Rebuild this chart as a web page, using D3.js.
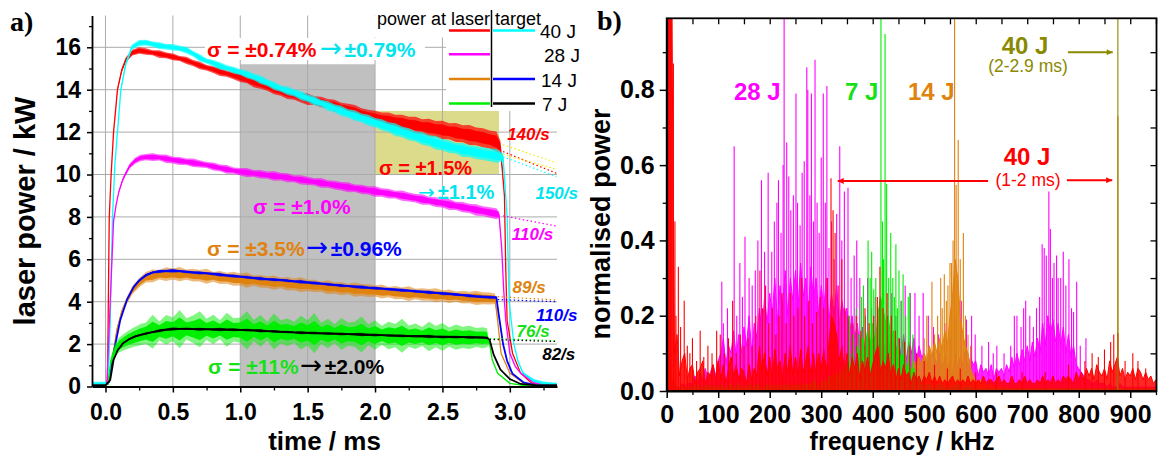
<!DOCTYPE html>
<html>
<head>
<meta charset="utf-8">
<script src="https://cdn.jsdelivr.net/npm/d3@7"></script>
<style>
  body { margin: 0; background: #fff; }
  svg { display: block; font-family: "Liberation Sans", Arial, sans-serif; }
</style>
</head>
<body>
<svg id="chart" width="1158" height="456"></svg>
<script>
// ---------------- panel a) : laser power traces ----------------
// common time grid of the flat part of every pulse (ms)
const timeFlat = [0.30,0.35,0.40,0.45,0.50,0.55,0.60,0.65,0.70,0.75,0.80,0.85,0.90,0.95,
  1.00,1.05,1.10,1.15,1.20,1.25,1.30,1.35,1.40,1.45,1.50,1.55,1.60,1.65,1.70,1.75,1.80,1.85,1.90,1.95,
  2.00,2.05,2.10,2.15,2.20,2.25,2.30,2.35,2.40,2.45,2.50,2.55,2.60,2.65,2.70,2.75,2.80];

// rise / fall segments: [time ms, power kW, noise half-width kW]
// flat part: power (kW) and noise half-width (kW) on timeFlat

// 40 J, at laser
const redRise = [[-0.10,0.05,0.03],[0.00,0.05,0.03],[0.015,0.3,0],[0.028,8.0,0],[0.042,10.0,0],[0.06,12.0,0.03],[0.089,14.0,0.06],[0.12,14.9,0.1],[0.15,15.4,0.12],[0.20,15.75,0.14],[0.25,15.85,0.15]];
const redFlat = [15.80,15.74,15.68,15.62,15.55,15.47,15.38,15.26,15.14,15.04,14.95,14.85,14.76,14.67,
  14.58,14.47,14.36,14.25,14.13,14.02,13.92,13.82,13.72,13.63,13.55,13.49,13.42,13.34,13.25,13.17,13.08,12.98,12.88,12.78,
  12.68,12.62,12.56,12.5,12.44,12.38,12.32,12.26,12.21,12.15,12.1,12.04,11.98,11.92,11.86,11.8,11.73];
const redNoise = [0.15,0.12,0.18,0.14,0.16,0.12,0.17,0.14,0.18,0.13,0.16,0.2,0.15,0.18,0.22,0.17,0.25,0.2,0.18,0.24,
  0.2,0.26,0.19,0.23,0.27,0.2,0.25,0.22,0.28,0.21,0.26,0.3,0.24,0.28,0.33,0.3,0.36,0.32,0.38,0.34,
  0.4,0.35,0.42,0.37,0.44,0.38,0.45,0.4,0.47,0.42,0.45];
const redFall = [[2.85,11.65,0.42],[2.90,11.55,0.48],[2.93,11.3,0.3],[2.96,9.0,0],[2.97,5.5,0],[2.98,3.1,0],[3.02,1.57,0],[3.08,0.63,0],[3.16,0.17,0],[3.25,0.05,0],[3.35,0.05,0]];

// 40 J, at target
const cyanRise = [[-0.10,0.13,0.09],[0.00,0.13,0.09],[0.02,0.2,0],[0.035,3.0,0],[0.052,8.0,0],[0.07,10.5,0],[0.089,12.0,0.03],[0.114,14.0,0.06],[0.15,15.2,0.1],[0.196,16.0,0.12],[0.25,16.2,0.14]];
const cyanFlat = [16.22,16.15,16.08,16.03,16.0,15.95,15.87,15.7,15.5,15.35,15.25,15.12,15.02,14.92,
  14.83,14.72,14.6,14.47,14.33,14.18,14.05,13.95,13.85,13.72,13.6,13.48,13.36,13.24,13.12,13.0,12.88,12.78,12.67,12.56,
  12.45,12.34,12.23,12.12,12.01,11.9,11.8,11.7,11.6,11.5,11.4,11.32,11.24,11.16,11.1,11.04,10.98];
const cyanNoise = [0.14,0.12,0.16,0.13,0.15,0.12,0.16,0.13,0.17,0.12,0.15,0.18,0.13,0.16,0.14,0.18,0.15,0.2,0.16,0.19,
  0.15,0.2,0.17,0.22,0.18,0.21,0.17,0.23,0.19,0.24,0.2,0.25,0.21,0.26,0.22,0.27,0.23,0.3,0.25,0.28,
  0.24,0.3,0.26,0.32,0.27,0.3,0.25,0.33,0.28,0.31,0.3];
const cyanFall = [[2.85,10.93,0.3],[2.90,10.88,0.32],[2.95,10.8,0.2],[2.98,8.0,0],[2.995,4.0,0],[3.03,2.0,0],[3.06,1.2,0.05],[3.10,0.6,0.08],[3.18,0.25,0.1],[3.25,0.15,0.08],[3.35,0.12,0.06]];

// 28 J, at laser
const magentaRise = [[-0.10,0.05,0.03],[0.00,0.05,0.03],[0.01,0.1,0],[0.06,7.8,0],[0.08,8.6,0],[0.10,9.2,0.05],[0.125,9.7,0.08],[0.146,10.0,0.1],[0.18,10.4,0.12],[0.22,10.65,0.14],[0.26,10.78,0.15]];
const magentaFlat = [10.82,10.82,10.8,10.74,10.68,10.64,10.6,10.55,10.5,10.45,10.38,10.31,10.24,10.18,
  10.13,10.09,10.05,10.01,9.97,9.93,9.9,9.85,9.8,9.75,9.7,9.65,9.6,9.55,9.5,9.45,9.4,9.35,9.3,9.25,
  9.2,9.15,9.1,9.05,9.0,8.94,8.88,8.82,8.76,8.7,8.65,8.58,8.52,8.46,8.4,8.33,8.27];
const magentaNoise = [0.15,0.18,0.14,0.2,0.16,0.19,0.15,0.2,0.17,0.14,0.19,0.16,0.21,0.15,0.18,0.22,0.16,0.2,0.17,0.23,
  0.18,0.21,0.16,0.22,0.19,0.17,0.23,0.18,0.21,0.2,0.24,0.18,0.22,0.19,0.25,0.2,0.23,0.18,0.24,0.21,
  0.2,0.25,0.19,0.23,0.21,0.26,0.2,0.24,0.22,0.27,0.23];
const magentaFall = [[2.85,8.21,0.25],[2.90,8.15,0.26],[2.92,8.1,0.15],[2.94,6.5,0],[2.955,4.5,0],[2.97,3.1,0],[3.00,1.57,0],[3.04,0.95,0],[3.08,0.63,0],[3.17,0.2,0],[3.25,0.06,0],[3.35,0.05,0]];

// 14 J, at laser
const orangeRise = [[-0.10,0.05,0.03],[0.00,0.05,0.03],[0.02,0.2,0],[0.047,1.1,0.05],[0.084,2.66,0.1],[0.12,3.5,0.15],[0.16,4.08,0.18],[0.20,4.55,0.2],[0.257,4.94,0.22]];
const orangeFlat = [5.15,5.22,5.27,5.3,5.31,5.3,5.28,5.25,5.22,5.2,5.17,5.14,5.11,5.08,
  5.05,5.02,4.99,4.96,4.93,4.9,4.88,4.85,4.82,4.8,4.77,4.74,4.71,4.68,4.65,4.62,4.6,4.57,4.55,4.52,
  4.5,4.48,4.45,4.43,4.4,4.38,4.36,4.34,4.32,4.3,4.28,4.26,4.24,4.22,4.2,4.18,4.16];
const orangeNoise = [0.25,0.3,0.22,0.32,0.26,0.34,0.24,0.3,0.27,0.35,0.23,0.31,0.26,0.33,0.28,0.36,0.24,0.3,0.27,0.34,
  0.25,0.32,0.28,0.35,0.26,0.3,0.24,0.33,0.27,0.31,0.25,0.34,0.28,0.3,0.26,0.33,0.24,0.31,0.27,0.35,
  0.25,0.3,0.28,0.33,0.26,0.32,0.24,0.3,0.27,0.34,0.28];
const orangeFall = [[2.85,4.15,0.28],[2.89,4.14,0.25],[2.91,3.1,0],[2.935,1.57,0],[3.00,0.63,0],[3.10,0.17,0],[3.20,0.05,0],[3.35,0.05,0]];

// 14 J, at target
const blueRise = [[-0.10,0.05,0.02],[0.00,0.05,0.02],[0.025,0.2,0],[0.06,1.57,0],[0.11,3.14,0.03],[0.16,4.1,0.04],[0.21,4.7,0.05],[0.25,5.0,0.06]];
const blueFlat = [5.25,5.38,5.43,5.45,5.46,5.44,5.41,5.38,5.36,5.34,5.31,5.28,5.24,5.21,
  5.18,5.15,5.12,5.09,5.06,5.04,5.02,4.99,4.96,4.94,4.91,4.88,4.85,4.82,4.79,4.76,4.74,4.71,4.69,4.66,
  4.64,4.62,4.59,4.57,4.54,4.52,4.49,4.47,4.44,4.42,4.39,4.37,4.34,4.31,4.28,4.25,4.23];
const blueNoise = [0.07,0.05,0.08,0.06,0.09,0.05,0.07,0.06,0.08,0.05,0.07,0.09,0.06,0.08,0.05,0.07,0.06,0.09,0.05,0.08,
  0.06,0.07,0.05,0.09,0.06,0.08,0.05,0.07,0.06,0.08,0.05,0.07,0.09,0.06,0.08,0.05,0.07,0.06,0.08,0.05,
  0.07,0.06,0.09,0.05,0.08,0.06,0.07,0.05,0.08,0.06,0.07];
const blueFall = [[2.85,4.21,0.07],[2.90,4.2,0.06],[2.92,3.3,0],[2.95,2.0,0],[2.98,1.2,0],[3.02,0.6,0],[3.10,0.2,0],[3.20,0.05,0],[3.35,0.05,0]];

// 7 J, at laser
const greenRise = [[-0.10,0.05,0.03],[0.00,0.05,0.03],[0.02,0.1,0],[0.04,1.2,0.2],[0.07,1.7,0.3],[0.10,1.95,0.35],[0.15,2.15,0.4],[0.20,2.3,0.45],[0.26,2.45,0.5]];
const greenFlat = [2.52,2.58,2.62,2.67,2.7,2.71,2.72,2.7,2.7,2.69,2.69,2.68,2.68,2.67,
  2.66,2.65,2.64,2.62,2.61,2.59,2.58,2.56,2.55,2.54,2.53,2.52,2.51,2.5,2.49,2.48,2.47,2.46,2.45,2.44,
  2.43,2.42,2.41,2.4,2.39,2.38,2.37,2.36,2.36,2.35,2.34,2.33,2.33,2.32,2.32,2.31,2.3];
const greenNoise = [0.5,0.8,0.45,0.7,0.55,0.9,0.5,0.65,0.85,0.5,0.7,0.45,0.8,0.55,0.6,0.9,0.5,0.75,0.45,0.85,
  0.55,0.65,0.5,0.8,0.6,0.95,0.5,0.7,0.45,0.75,0.55,0.6,0.85,0.5,0.7,0.45,0.65,0.55,0.8,0.5,
  0.6,0.45,0.7,0.5,0.65,0.45,0.6,0.5,0.55,0.45,0.5];
const greenFall = [[2.83,2.3,0.45],[2.85,2.0,0],[2.87,1.25,0],[2.91,0.62,0],[3.00,0.15,0],[3.10,0.05,0],[3.35,0.05,0]];

// 7 J, at target
const blackRise = [[-0.10,0.05,0.02],[0.00,0.05,0.02],[0.035,0.3,0],[0.06,1.25,0],[0.09,1.7,0.02],[0.13,2.04,0.03],[0.18,2.25,0.04],[0.22,2.36,0.05],[0.26,2.43,0.05]];
const blackFlat = [2.5,2.57,2.63,2.68,2.71,2.72,2.72,2.71,2.7,2.7,2.69,2.69,2.68,2.68,
  2.67,2.66,2.65,2.63,2.61,2.6,2.58,2.57,2.55,2.54,2.53,2.52,2.51,2.5,2.49,2.48,2.47,2.46,2.45,2.44,
  2.43,2.42,2.41,2.4,2.39,2.38,2.37,2.37,2.36,2.35,2.34,2.34,2.33,2.33,2.32,2.32,2.31];
const blackNoise = [0.06,0.04,0.07,0.05,0.08,0.04,0.06,0.05,0.07,0.04,0.06,0.08,0.05,0.07,0.04,0.06,0.05,0.08,0.04,0.07,
  0.05,0.06,0.04,0.08,0.05,0.07,0.04,0.06,0.05,0.07,0.04,0.06,0.08,0.05,0.07,0.04,0.06,0.05,0.07,0.04,
  0.06,0.05,0.08,0.04,0.07,0.05,0.06,0.04,0.07,0.05,0.06];
const blackFall = [[2.83,2.3,0.05],[2.85,2.2,0],[2.88,1.5,0],[2.93,0.8,0],[3.00,0.35,0],[3.08,0.12,0],[3.20,0.05,0],[3.35,0.05,0]];

// extrapolated decay fits: [t0, P0, t1, P1, colour key]
const fitLines = [
  [2.95,11.40,3.345,10.56,'yellow'],[2.95,11.08,3.345,10.06,'red'],[2.95,10.95,3.345,10.25,'yellow'],
  [2.95,10.84,3.345,9.90,'cyan'],[2.95,8.05,3.345,7.57,'magenta'],
  [2.91,4.24,3.345,4.08,'orange'],[2.91,4.10,3.345,4.00,'blue'],
  [2.85,2.27,3.345,2.16,'green'],[2.85,2.22,3.345,2.12,'black']];

// decay rate labels: [text, colour key, time at left edge, power at baseline]
const rateLabels = [['140/s','red',2.98,11.62],['150/s','cyan',3.19,8.83],['110/s','magenta',3.015,6.91],
  ['89/s','orange',3.02,4.41],['110/s','blue',3.195,3.09],['76/s','green',3.05,2.33],['82/s','black',3.24,1.25]];

const timeTicks = [0,0.5,1.0,1.5,2.0,2.5,3.0];
const timeMinor = [0.25,0.75,1.25,1.75,2.25,2.75,3.25];
const powerTicks = [0,2,4,6,8,10,12,14,16];
const powerMinor = [1,3,5,7,9,11,13,15,17];

// ---------------- panel b) : normalised spectra ----------------
// spectra on 5 kHz bins (0..950 kHz): background level, plus the distinct spectral lines [kHz, amplitude]
const magentaFloor = [0.02,0.01,0.02,0.01,0.01,0.01,0.02,0.01,0.02,0.02,
  0.02,0.04,0.02,0.05,0.03,0.06,0.03,0.05,0.07,0.04, 0.08,0.1,0.14,0.07,0.12,0.1,0.16,0.09,0.15,0.1,
  0.17,0.12,0.2,0.1,0.18,0.14,0.22,0.15,0.25,0.18, 0.26,0.2,0.3,0.18,0.28,0.22,0.32,0.2,0.3,0.24,
  0.32,0.22,0.34,0.25,0.3,0.2,0.33,0.24,0.3,0.2, 0.28,0.22,0.3,0.18,0.26,0.2,0.28,0.17,0.24,0.2,
  0.22,0.15,0.2,0.14,0.18,0.12,0.17,0.1,0.16,0.12, 0.14,0.1,0.15,0.09,0.13,0.11,0.15,0.08,0.13,0.1,
  0.14,0.09,0.15,0.08,0.13,0.1,0.14,0.08,0.12,0.09, 0.1,0.06,0.11,0.05,0.09,0.07,0.1,0.05,0.09,0.06,
  0.08,0.05,0.1,0.06,0.09,0.07,0.11,0.06,0.09,0.07, 0.08,0.04,0.07,0.05,0.06,0.04,0.07,0.03,0.06,0.05,
  0.06,0.04,0.07,0.05,0.09,0.06,0.1,0.07,0.11,0.08, 0.12,0.08,0.13,0.09,0.14,0.1,0.18,0.12,0.2,0.15,
  0.19,0.13,0.18,0.12,0.17,0.1,0.15,0.09,0.12,0.07, 0.06,0.05,0.04,0.03,0.03,0.02,0.02,0.03,0.02,0.02,
  0.02,0.01,0.02,0.01,0.01,0.01,0.02,0.01,0.01,0.01, 0.01,0.01,0.01,0.01,0.01,0.01,0.01,0.01,0.01,0.01,0.01];
const magentaLines = [[107,0.29],[110,0.18],[118,0.22],[131,0.65],[136,0.2],[142,0.34],[147,0.25],[152,0.41],[160,0.3],
  [166,0.28],[172,0.32],[177,0.40],[184,0.56],[190,0.37],[197,0.58],[204,0.37],[209,0.45],[214,0.5],[217,0.56],
  [222,0.42],[226,0.6],[228,1.2],[233,0.66],[237,0.57],[241,0.48],[246,0.52],[251,0.79],[254,0.5],[259,0.44],
  [263,0.58],[267,0.61],[272,0.86],[274,0.8],[278,0.52],[281,0.79],[285,0.45],[288,0.88],[292,0.5],[296,0.42],
  [300,0.62],[304,0.79],[308,0.5],[311,0.81],[315,0.38],[320,0.45],[325,0.35],[330,0.47],[336,0.65],[340,0.4],
  [345,0.53],[352,0.54],[358,0.3],[364,0.36],[369,0.4],[375,0.3],[382,0.26],[390,0.3],[398,0.22],[405,0.25],
  [412,0.2],[420,0.24],[428,0.2],[437,0.26],[445,0.2],[455,0.24],[463,0.28],[473,0.26],[482,0.26],[490,0.2],
  [498,0.26],[508,0.2],[518,0.17],[528,0.15],[540,0.18],[550,0.14],[562,0.2],[572,0.24],[582,0.19],[592,0.2],
  [599,0.15],[612,0.12],[625,0.13],[634,0.1],[641,0.12],[655,0.1],[668,0.12],[675,0.2],[680,0.2],[688,0.17],
  [693,0.22],[697,0.24],[705,0.2],[712,0.17],[718,0.22],[724,0.25],[729,0.39],[733,0.38],[737,0.36],[742,0.53],
  [745,0.43],[749,0.3],[752,0.34],[757,0.36],[760,0.3],[765,0.3],[770,0.37],[775,0.28],[781,0.35],[786,0.22],
  [790,0.21],[796,0.29],[803,0.12],[814,0.14]];

const greenFloor = [0.37,0.06,0.03,0.02,0.01,0.01,0.01,0.01,0.01,0.01,
  0.01,0.01,0.02,0.01,0.01,0.01,0.02,0.01,0.01,0.01, 0.01,0.02,0.01,0.01,0.01,0.02,0.01,0.01,0.02,0.01,
  0.01,0.01,0.02,0.01,0.01,0.02,0.01,0.01,0.01,0.02, 0.01,0.02,0.01,0.01,0.02,0.01,0.02,0.01,0.01,0.02,
  0.01,0.02,0.01,0.02,0.01,0.02,0.01,0.03,0.02,0.01, 0.02,0.03,0.02,0.04,0.03,0.05,0.03,0.04,0.06,0.05,
  0.07,0.05,0.1,0.06,0.12,0.08,0.14,0.1,0.16,0.12, 0.18,0.12,0.2,0.25,0.22,0.18,0.2,0.14,0.16,0.1,
  0.12,0.08,0.1,0.06,0.08,0.05,0.06,0.03,0.04,0.02, 0.02,0.01,0.02,0.01,0.01,0.01,0.02,0.01,0.01,0.01,
  0.01,0.01,0.01,0.02,0.01,0.01,0.01,0.01,0.01,0.01, 0.005,0.005,0.005,0.005,0.005,0.005,0.005,0.005,0.005,0.005,
  0.005,0.005,0.005,0.005,0.005,0.005,0.005,0.005,0.005,0.005, 0.005,0.005,0.005,0.005,0.005,0.005,0.005,0.005,0.005,0.005,
  0.005,0.005,0.005,0.005,0.005,0.005,0.005,0.005,0.005,0.005, 0.005,0.005,0.005,0.005,0.005,0.005,0.005,0.005,0.005,0.005,
  0.005,0.005,0.005,0.005,0.005,0.005,0.005,0.005,0.005,0.005, 0.005,0.005,0.005,0.005,0.005,0.005,0.005,0.005,0.005,0.005,0.005];
const greenLines = [[355,0.2],[362,0.15],[368,0.22],[374,0.15],[378,0.25],[382,0.28],[386,0.2],[391,0.4],[395,0.3],
  [398,0.37],[402,0.27],[406,0.3],[410,0.22],[416,1.2],[419,0.45],[421,0.35],[424,0.948],[427,0.55],[431,0.3],
  [435,0.42],[439,0.3],[442,0.25],[445,0.39],[448,0.22],[451,0.32],[456,0.24],[459,0.31],[464,0.2],[469,0.25],
  [472,0.26],[478,0.15],[485,0.1]];

const orangeFloor = [0.01,0.005,0.005,0.005,0.005,0.005,0.01,0.005,0.005,0.005,
  0.005,0.01,0.005,0.005,0.005,0.01,0.005,0.005,0.005,0.01, 0.005,0.005,0.01,0.005,0.005,0.005,0.01,0.005,0.005,0.01,
  0.005,0.01,0.005,0.005,0.01,0.005,0.01,0.005,0.005,0.01, 0.01,0.005,0.01,0.005,0.01,0.005,0.01,0.01,0.005,0.01,
  0.01,0.02,0.01,0.01,0.02,0.01,0.02,0.01,0.02,0.01, 0.02,0.03,0.02,0.03,0.04,0.03,0.05,0.03,0.04,0.03,
  0.05,0.04,0.06,0.04,0.05,0.03,0.06,0.04,0.05,0.03, 0.05,0.04,0.06,0.04,0.05,0.03,0.06,0.04,0.05,0.04,
  0.05,0.04,0.06,0.05,0.07,0.05,0.08,0.06,0.09,0.07, 0.1,0.08,0.12,0.09,0.13,0.1,0.14,0.11,0.16,0.12,
  0.2,0.25,0.35,0.3,0.2,0.15,0.12,0.1,0.06,0.04, 0.03,0.02,0.03,0.02,0.02,0.01,0.02,0.01,0.01,0.01,
  0.01,0.005,0.01,0.005,0.005,0.005,0.005,0.005,0.005,0.005, 0.005,0.005,0.005,0.005,0.005,0.005,0.005,0.005,0.005,0.005,
  0.005,0.005,0.005,0.005,0.005,0.005,0.005,0.005,0.005,0.005, 0.005,0.005,0.005,0.005,0.005,0.005,0.005,0.005,0.005,0.005,
  0.005,0.005,0.005,0.005,0.005,0.005,0.005,0.005,0.005,0.005, 0.005,0.005,0.005,0.005,0.005,0.005,0.005,0.005,0.005,0.005,0.005];
const orangeLines = [[500,0.14],[505,0.2],[510,0.12],[515,0.29],[520,0.15],[526,0.2],[532,0.3],[535,0.22],[539,0.31],
  [543,0.24],[546,0.28],[550,0.34],[553,0.34],[556,0.4],[559,1.2],[562,0.547],[566,0.667],[570,0.35],[576,0.42],
  [580,0.2],[585,0.15],[590,0.12],[876,0.73]];

const redFloor = [1.3,1.3,1.0,0.1,0.15,0.04,0.08,0.1,0.03,0.06,
  0.07,0.02,0.05,0.06,0.08,0.02,0.05,0.04,0.07,0.03, 0.08,0.03,0.07,0.02,0.06,0.09,0.04,0.07,0.03,0.06,
  0.05,0.02,0.07,0.03,0.06,0.04,0.12,0.05,0.1,0.04, 0.09,0.03,0.11,0.06,0.08,0.03,0.1,0.05,0.12,0.04,
  0.09,0.04,0.11,0.05,0.08,0.12,0.04,0.1,0.04,0.1, 0.06,0.11,0.05,0.13,0.2,0.18,0.15,0.08,0.12,0.05,
  0.1,0.04,0.09,0.06,0.1,0.03,0.08,0.05,0.09,0.04, 0.07,0.1,0.12,0.05,0.08,0.06,0.1,0.04,0.07,0.03,
  0.06,0.03,0.07,0.04,0.05,0.02,0.05,0.03,0.04,0.02, 0.04,0.03,0.05,0.02,0.04,0.02,0.04,0.02,0.03,0.02,
  0.03,0.04,0.02,0.03,0.02,0.03,0.02,0.04,0.02,0.03, 0.02,0.03,0.02,0.04,0.02,0.03,0.03,0.02,0.03,0.04,
  0.02,0.03,0.02,0.02,0.04,0.02,0.02,0.03,0.02,0.04, 0.02,0.03,0.02,0.02,0.03,0.02,0.04,0.02,0.03,0.02,
  0.04,0.02,0.03,0.02,0.04,0.03,0.04,0.03,0.02,0.05, 0.03,0.05,0.03,0.06,0.04,0.06,0.03,0.07,0.05,0.04,
  0.06,0.03,0.08,0.05,0.07,0.09,0.04,0.06,0.03,0.05, 0.04,0.06,0.03,0.06,0.05,0.03,0.05,0.03,0.04,0.02,0.03];
const redLines = [[2,1.3],[4,1.3],[6,1.3],[8,1.3],[10,1.3],[13,0.87],[16,0.45],[18,0.2],[22.6,0.33],[27,0.17],[34,0.24],[40,0.12],
  [45,0.1],[50,0.14],[58,0.08],[65,0.16],[72,0.09],[80,0.12],[88,0.1],[97,0.16],[104,0.15],[112,0.1],[120,0.14],
  [128,0.24],[135,0.1],[143,0.15],[150,0.12],[158,0.14],[166,0.12],[173,0.2],[181,0.32],[186,0.22],[192,0.28],
  [198,0.18],[205,0.22],[212,0.15],[218,0.2],[224,0.26],[232,0.18],[240,0.26],[247,0.2],[255,0.22],[262,0.3],
  [268,0.2],[276,0.24],[283,0.18],[291,0.21],[298,0.25],[305,0.22],[312,0.3],[319,0.565],[323,0.48],[327,0.42],
  [333,0.28],[340,0.35],[346,0.22],[352,0.2],[360,0.18],[368,0.2],[377,0.16],[385,0.22],[393,0.18],[402,0.2],
  [409,0.25],[414,0.33],[420,0.22],[428,0.26],[436,0.2],[444,0.16],[452,0.14],[462,0.13],[472,0.12],[485,0.1],
  [500,0.08],[520,0.07],[545,0.06],[570,0.06],[600,0.05],[640,0.05],[690,0.05],[735,0.05],[780,0.07],[812,0.08],
  [826,0.1],[838,0.09],[850,0.11],[862,0.13],[868,0.15],[876,0.154],[890,0.08],[905,0.1],[915,0.08],[930,0.06]];

// 40 J, 2-2.9 ms window: a single line
const oliveLines = [[876,1.2]];

const freqTicks = [0,100,200,300,400,500,600,700,800,900];
const freqMinor = [50,150,250,350,450,550,650,750,850,950];
const ampTicks = [0,0.2,0.4,0.6,0.8];
const ampAll = [0,0.1,0.2,0.3,0.4,0.5,0.6,0.7,0.8,0.9];

// ---------------- drawing ----------------
const C = {red:'#ff0000', cyan:'#00ffff', magenta:'#ff00ff', orange:'#e0820e', blue:'#0000ff',
           green:'#00ee00', black:'#000000', olive:'#8a8a00', yellow:'#f0f000'};
const TXT = {cyan:'#00e4ee', green:'#18e018'};
const svg = d3.select('#chart');
const defs = svg.append('defs');

// ---------- panel a ----------
const L = {x0: 92, x1: 557, y0: 15.5, y1: 386.5};
const xL = d3.scaleLinear().domain([-0.1, 3.35]).range([L.x0, L.x1]);
const yL = d3.scaleLinear().domain([0, 17.5]).range([L.y1, L.y0]);

defs.append('clipPath').attr('id', 'clipL').append('rect')
  .attr('x', L.x0).attr('y', L.y0).attr('width', L.x1 - L.x0).attr('height', L.y1 - L.y0);

const gA = svg.append('g');
// analysis windows
gA.append('rect').attr('x', xL(1.0)).attr('y', yL(15.2)).attr('width', xL(2.0) - xL(1.0))
  .attr('height', yL(0) - yL(15.2)).attr('fill', '#c0c0c0');
gA.append('rect').attr('x', xL(2.0)).attr('y', yL(13)).attr('width', xL(2.92) - xL(2.0))
  .attr('height', yL(10) - yL(13)).attr('fill', '#dcdb8c');

// grid
gA.append('g').selectAll('line').data(timeTicks).join('line')
  .attr('x1', d => xL(d)).attr('x2', d => xL(d)).attr('y1', L.y0).attr('y2', L.y1)
  .attr('stroke', '#ababab').attr('stroke-width', 1);
gA.append('g').selectAll('line').data(powerTicks.filter(d => d > 0)).join('line')
  .attr('x1', L.x0).attr('x2', L.x1).attr('y1', d => yL(d)).attr('y2', d => yL(d))
  .attr('stroke', '#ababab').attr('stroke-width', 1);

// blank backgrounds under legend and top label
gA.append('rect').attr('x', 446).attr('y', L.y0).attr('width', L.x1 - 446 + 1).attr('height', 111 - L.y0).attr('fill', '#fff');
gA.append('rect').attr('x', 372).attr('y', L.y0).attr('width', L.x1 - 372 + 1).attr('height', 22).attr('fill', '#fff');
gA.append('rect').attr('x', 205).attr('y', 38).attr('width', 220).attr('height', 22).attr('fill', '#fff');

// traces
const plotA = gA.append('g').attr('clip-path', 'url(#clipL)');
function trace(rise, flat, noise, fall, color, lw, bandOpacity) {
  const n = Math.min(flat.length, noise.length, timeFlat.length);
  const pts = rise.map(d => ({t: d[0], p: d[1], n: d[2]}))
    .concat(d3.range(n).map(i => ({t: timeFlat[i], p: flat[i], n: noise[i]})))
    .concat(fall.map(d => ({t: d[0], p: d[1], n: d[2]})));
  const band = k => d3.area().x(d => xL(d.t)).y0(d => yL(d.p - k * d.n)).y1(d => yL(d.p + k * d.n));
  plotA.append('path').datum(pts).attr('d', band(1)).attr('fill', color).attr('fill-opacity', bandOpacity);
  plotA.append('path').datum(pts).attr('d', band(0.6)).attr('fill', color);
  plotA.append('path').datum(pts).attr('d', d3.line().x(d => xL(d.t)).y(d => yL(d.p)))
    .attr('fill', 'none').attr('stroke', color).attr('stroke-width', lw);
}
trace(redRise, redFlat, redNoise, redFall, C.red, 1.3, 0.7);
trace(cyanRise, cyanFlat, cyanNoise, cyanFall, C.cyan, 1.3, 0.7);
trace(magentaRise, magentaFlat, magentaNoise, magentaFall, C.magenta, 1.3, 0.6);
trace(orangeRise, orangeFlat, orangeNoise, orangeFall, C.orange, 1.3, 0.55);
trace(blueRise, blueFlat, blueNoise, blueFall, C.blue, 1.8, 0.6);
trace(greenRise, greenFlat, greenNoise, greenFall, C.green, 1.3, 0.5);
trace(blackRise, blackFlat, blackNoise, blackFall, C.black, 1.8, 0.6);

// decay fit extrapolations
gA.append('g').selectAll('line').data(fitLines).join('line')
  .attr('x1', d => xL(d[0])).attr('y1', d => yL(d[1])).attr('x2', d => xL(d[2])).attr('y2', d => yL(d[3]))
  .attr('stroke', d => C[d[4]]).attr('stroke-width', 1.2).attr('stroke-dasharray', '1.5,2.5');

// axes
function styleAxis(g, size) {
  g.attr('font-family', null).attr('font-size', null);
  g.select('.domain').attr('stroke-width', 1.8);
  g.selectAll('.tick line').attr('stroke-width', 1.5);
  g.selectAll('.tick text').attr('font-size', size).attr('font-weight', 'bold')
    .attr('font-family', '"Liberation Sans", Arial, sans-serif').attr('fill', '#000');
}
const axBL = gA.append('g').attr('transform', `translate(0,${L.y1})`)
  .call(d3.axisBottom(xL).tickValues(timeTicks).tickFormat(d3.format('.1f')).tickSize(6).tickSizeOuter(0).tickPadding(11));
styleAxis(axBL, 23);
gA.append('g').attr('transform', `translate(0,${L.y1})`)
  .call(d3.axisBottom(xL).tickValues(timeMinor).tickFormat('').tickSize(4).tickSizeOuter(0))
  .call(g => g.select('.domain').remove()).selectAll('line').attr('stroke-width', 1.3);
const axLL = gA.append('g').attr('transform', `translate(${L.x0},0)`)
  .call(d3.axisLeft(yL).tickValues(powerTicks).tickSize(5).tickSizeOuter(0).tickPadding(6));
styleAxis(axLL, 23);
gA.append('g').attr('transform', `translate(${L.x0},0)`)
  .call(d3.axisLeft(yL).tickValues(powerMinor).tickFormat('').tickSize(3).tickSizeOuter(0))
  .call(g => g.select('.domain').remove()).selectAll('line').attr('stroke-width', 1.3);

// titles
svg.append('text').attr('x', 10).attr('y', 31).text('a)')
  .attr('font-family', '"Liberation Serif", "Times New Roman", serif').attr('font-weight', 'bold').attr('font-size', 28);
svg.append('text').attr('x', (L.x0 + L.x1) / 2).attr('y', 450).attr('text-anchor', 'middle')
  .attr('font-weight', 'bold').attr('font-size', 26).text('time / ms');
svg.append('text').attr('transform', 'translate(35,211) rotate(-90)').attr('text-anchor', 'middle')
  .attr('font-weight', 'bold').attr('font-size', 29).text('laser power / kW');

// noise annotations; arrows are set in a lighter glyph, scaled by `arrowScale`
function multiText(x, y, size, parts, arrowScale = 1.25) {
  const t = svg.append('text').attr('x', x).attr('y', y).attr('font-size', size).attr('font-weight', 'bold');
  parts.forEach(p => {
    const s = t.append('tspan').text(p[0]).attr('fill', p[1]);
    if (p[2] === 'arrow') s.attr('font-weight', 'normal').attr('font-family', '"DejaVu Sans", sans-serif').attr('font-size', size * arrowScale);
    if (p[3]) s.attr('dx', p[3]);
  });
}
multiText(207, 57, 21, [['σ = ±0.74%', C.red], ['→', TXT.cyan, 'arrow', 3], ['±0.79%', TXT.cyan, null, 3]]);
multiText(379, 175, 20, [['σ = ±1.5%', C.red]]);
multiText(418, 199, 20, [['→', TXT.cyan, 'arrow'], ['±1.1%', TXT.cyan, null, 3]], 1.0);
multiText(253, 214, 21, [['σ = ±1.0%', C.magenta]]);
multiText(207, 256, 21, [['σ = ±3.5%', C.orange], ['→', C.blue, 'arrow', 1], ['±0.96%', C.blue, null, 3]]);
multiText(208, 374, 21, [['σ = ±11%', TXT.green], ['→', C.black, 'arrow', 1], ['±2.0%', C.black, null, 3]]);

svg.append('g').selectAll('text').data(rateLabels).join('text')
  .attr('x', d => xL(d[2])).attr('y', d => yL(d[3])).text(d => d[0])
  .attr('fill', d => d[1] === 'cyan' ? TXT.cyan : d[1] === 'green' ? TXT.green : C[d[1]])
  .attr('font-size', 17).attr('font-weight', 'bold').attr('font-style', 'italic');

// legend
const lg = svg.append('g');
lg.append('text').attr('x', 377).attr('y', 24.5).attr('font-size', 18).text('power at laser target');
lg.append('line').attr('x1', 491.5).attr('x2', 491.5).attr('y1', 10).attr('y2', 107).attr('stroke', '#000').attr('stroke-width', 1.5);
const legendRows = [['40 J', 'red', 'cyan', 30.5, 540], ['28 J', 'magenta', null, 54.3, 544], ['14 J', 'orange', 'blue', 79, 541], ['7 J', 'green', 'black', 103.5, 542]];
legendRows.forEach(r => {
  lg.append('line').attr('x1', 449).attr('x2', 490).attr('y1', r[3]).attr('y2', r[3]).attr('stroke', C[r[1]]).attr('stroke-width', 2.5);
  if (r[2]) lg.append('line').attr('x1', 493).attr('x2', 535).attr('y1', r[3]).attr('y2', r[3]).attr('stroke', C[r[2]]).attr('stroke-width', 2.5);
  lg.append('text').attr('x', r[4]).attr('y', r[3] + 7.5).attr('font-size', 19).text(r[0]);
});

// ---------- panel b ----------
const R = {x0: 666.7, x1: 1156.5, y0: 18.3, y1: 391};
const xR = d3.scaleLinear().domain([0, 951]).range([R.x0, R.x1]);
const yR = d3.scaleLinear().domain([0, 0.99]).range([R.y1, R.y0]);
const freqBins = d3.range(0, 951, 5);

defs.append('clipPath').attr('id', 'clipR').append('rect')
  .attr('x', R.x0).attr('y', R.y0).attr('width', R.x1 - R.x0).attr('height', R.y1 - R.y0);
const gB = svg.append('g');
const plotB = gB.append('g').attr('clip-path', 'url(#clipR)');

// background level drawn as a filled trace, distinct lines as sticks
function spectrum(floor, lines, color) {
  const g = plotB.append('g');
  if (floor) {
    const n = Math.min(floor.length, freqBins.length);
    const data = floor.slice(0, n);
    g.append('path').datum(data)
      .attr('d', d3.area().x((d, i) => xR(freqBins[i])).y0(yR(0)).y1(d => yR(d)))
      .attr('fill', color).attr('fill-opacity', 0.85);
    g.append('path').datum(data)
      .attr('d', d3.line().x((d, i) => xR(freqBins[i])).y(d => yR(d)))
      .attr('fill', 'none').attr('stroke', color).attr('stroke-width', 1);
  }
  g.selectAll('line').data(lines).join('line')
    .attr('x1', d => xR(d[0])).attr('x2', d => xR(d[0])).attr('y1', yR(0)).attr('y2', d => yR(d[1]))
    .attr('stroke', color).attr('stroke-width', 1.1);
}
spectrum(magentaFloor, magentaLines, C.magenta);
spectrum(orangeFloor, orangeLines, C.orange);
spectrum(greenFloor, greenLines, C.green);
spectrum(redFloor, redLines, C.red);
spectrum(null, oliveLines, C.olive);

// frame and ticks
gB.append('rect').attr('x', R.x0).attr('y', R.y0).attr('width', R.x1 - R.x0).attr('height', R.y1 - R.y0)
  .attr('fill', 'none').attr('stroke', '#000').attr('stroke-width', 1.8);
const axBB = gB.append('g').attr('transform', `translate(0,${R.y1})`)
  .call(d3.axisBottom(xR).tickValues(freqTicks).tickFormat(d3.format('d')).tickSize(7).tickSizeOuter(0).tickPadding(7));
styleAxis(axBB, 25);
gB.append('g').attr('transform', `translate(0,${R.y1})`)
  .call(d3.axisBottom(xR).tickValues(freqMinor).tickFormat('').tickSize(4).tickSizeOuter(0))
  .call(g => g.select('.domain').remove()).selectAll('line').attr('stroke-width', 1.3);
const axBLft = gB.append('g').attr('transform', `translate(${R.x0},0)`)
  .call(d3.axisLeft(yR).tickValues(ampTicks).tickFormat(d3.format('.1f')).tickSize(7).tickSizeOuter(0).tickPadding(5));
styleAxis(axBLft, 25);
gB.append('g').attr('transform', `translate(${R.x0},0)`)
  .call(d3.axisLeft(yR).tickValues(ampAll.filter(d => !ampTicks.includes(d))).tickFormat('').tickSize(4).tickSizeOuter(0))
  .call(g => g.select('.domain').remove()).selectAll('line').attr('stroke-width', 1.3);
gB.append('g').attr('transform', `translate(0,${R.y0})`)
  .call(d3.axisTop(xR).tickValues(freqTicks.concat(freqMinor)).tickFormat('').tickSize(-6).tickSizeOuter(0))
  .call(g => g.select('.domain').remove()).selectAll('line').attr('stroke-width', 1.3);
gB.append('g').attr('transform', `translate(${R.x1},0)`)
  .call(d3.axisRight(yR).tickValues(ampAll.filter(d => d > 0)).tickFormat('').tickSize(-6).tickSizeOuter(0))
  .call(g => g.select('.domain').remove()).selectAll('line').attr('stroke-width', 1.3);

svg.append('text').attr('x', 597).attr('y', 30).text('b)')
  .attr('font-family', '"Liberation Serif", "Times New Roman", serif').attr('font-weight', 'bold').attr('font-size', 28);
svg.append('text').attr('x', 902).attr('y', 450).attr('text-anchor', 'middle')
  .attr('font-weight', 'bold').attr('font-size', 25).text('frequency / kHz');
svg.append('text').attr('transform', 'translate(610,224) rotate(-90)').attr('text-anchor', 'middle')
  .attr('font-weight', 'bold').attr('font-size', 27).text('normalised power');

// spectrum annotations
['red', 'olive'].forEach(k => {
  defs.append('marker').attr('id', 'arrow-' + k).attr('viewBox', '0 0 10 10').attr('refX', 10).attr('refY', 5)
    .attr('markerWidth', 9).attr('markerHeight', 6).attr('markerUnits', 'userSpaceOnUse').attr('orient', 'auto')
    .append('path').attr('d', 'M0,0 L10,5 L0,10 Z').attr('fill', C[k]);
});
const ann = svg.append('g');
function jLabel(x, y, txt, color) {
  ann.append('text').attr('x', x).attr('y', y).attr('font-size', 24).attr('font-weight', 'bold').attr('fill', color).text(txt);
}
jLabel(734, 100, '28 J', C.magenta);
jLabel(845, 100, '7 J', TXT.green);
jLabel(908, 100, '14 J', C.orange);
ann.append('text').attr('x', 1025).attr('y', 53.5).attr('text-anchor', 'middle').attr('font-size', 24).attr('font-weight', 'bold').attr('fill', C.olive).text('40 J');
ann.append('text').attr('x', 1028).attr('y', 72).attr('text-anchor', 'middle').attr('font-size', 17.5).attr('fill', C.olive).text('(2-2.9 ms)');
ann.append('line').attr('x1', xR(779)).attr('x2', xR(866)).attr('y1', yR(0.9)).attr('y2', yR(0.9))
  .attr('stroke', C.olive).attr('stroke-width', 2).attr('marker-end', 'url(#arrow-olive)');
ann.append('text').attr('x', 1027).attr('y', 165).attr('text-anchor', 'middle').attr('font-size', 24).attr('font-weight', 'bold').attr('fill', C.red).text('40 J');
ann.append('text').attr('x', 1028).attr('y', 185.5).attr('text-anchor', 'middle').attr('font-size', 17.5).attr('fill', C.red).text('(1-2 ms)');
ann.append('line').attr('x1', xR(624)).attr('x2', xR(332)).attr('y1', yR(0.558)).attr('y2', yR(0.558))
  .attr('stroke', C.red).attr('stroke-width', 2).attr('marker-end', 'url(#arrow-red)');
ann.append('line').attr('x1', xR(777)).attr('x2', xR(865)).attr('y1', yR(0.56)).attr('y2', yR(0.56))
  .attr('stroke', C.red).attr('stroke-width', 2).attr('marker-end', 'url(#arrow-red)');
</script>
</body>
</html>
